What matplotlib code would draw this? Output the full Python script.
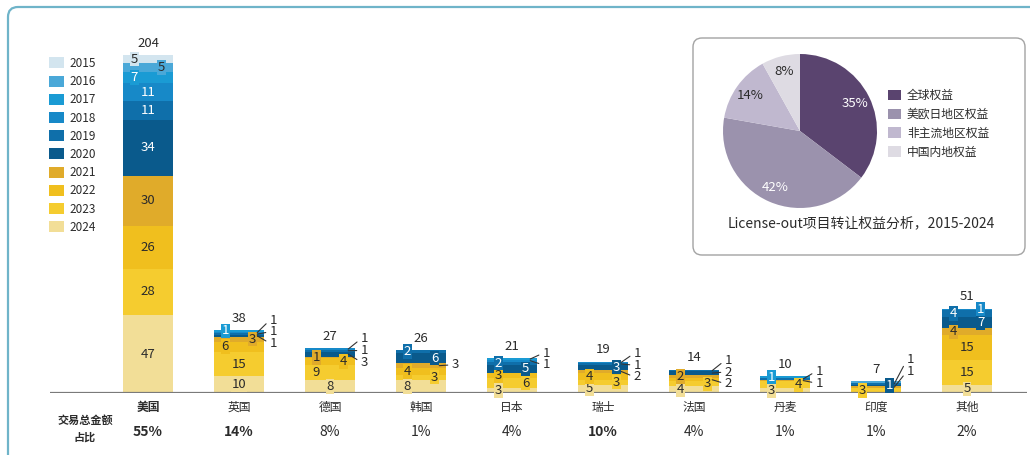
import matplotlib
matplotlib.use('Agg')
import matplotlib.pyplot as plt
from matplotlib.patches import FancyBboxPatch, Patch
from matplotlib.transforms import IdentityTransform
import numpy as np

plt.rcParams['font.family'] = ['Noto Sans CJK SC', 'DejaVu Sans']

# ---------------- data ----------------
years = [2015, 2016, 2017, 2018, 2019, 2020, 2021, 2022, 2023, 2024]
countries = ['美国', '英国', '德国', '韩国', '日本', '瑞士', '法国', '丹麦', '印度', '其他']
share_labels = ['55%', '14%', '8%', '1%', '4%', '10%', '4%', '1%', '1%', '2%']
share_bold = [True, True, False, False, False, True, False, False, False, False]

v2015 = [5, 0, 0, 0, 0, 0, 0, 0, 0, 0]
v2016 = [5, 0, 0, 0, 0, 0, 0, 0, 1, 0]
v2017 = [7, 1, 0, 0, 1, 0, 0, 1, 0, 0]
v2018 = [11, 1, 1, 0, 1, 1, 0, 0, 0, 1]
v2019 = [11, 1, 1, 2, 2, 1, 1, 1, 1, 4]
v2020 = [34, 1, 3, 6, 5, 3, 2, 0, 1, 7]
v2021 = [30, 3, 1, 3, 0, 2, 2, 1, 1, 4]
v2022 = [26, 6, 4, 4, 3, 4, 2, 0, 0, 15]
v2023 = [28, 15, 9, 3, 6, 3, 3, 4, 3, 15]
v2024 = [47, 10, 8, 8, 3, 5, 4, 3, 0, 5]
year_values = {2015: v2015, 2016: v2016, 2017: v2017, 2018: v2018, 2019: v2019,
               2020: v2020, 2021: v2021, 2022: v2022, 2023: v2023, 2024: v2024}

pie_labels = ['全球权益', '美欧日地区权益', '非主流地区权益', '中国内地权益']
pie_values = [35, 42, 14, 8]
pie_title = 'License-out项目转让权益分析，2015-2024'

# ---------------- style ----------------
year_colors = {2015: '#d3e5ef', 2016: '#4aa8d8', 2017: '#1a9bd4', 2018: '#1789c8',
               2019: '#0f6faa', 2020: '#0a5a8c', 2021: '#e0ab2a', 2022: '#f0bf1e',
               2023: '#f5cc2f', 2024: '#f2de97'}
white_text_years = {2017, 2018, 2019, 2020}
pie_colors = ['#5a446f', '#9b92ad', '#c0b8cf', '#dedbe3']

# label placement per bar: c=center, l=left, r=right, a=annotated outside, n=none
label_mode = [
    {2017: 'l', 2016: 'r', 2015: 'l'},
    {2022: 'l', 2021: 'r', 2020: 'a', 2019: 'a', 2018: 'a', 2017: 'l'},
    {2023: 'l', 2022: 'r', 2021: 'l', 2020: 'a', 2019: 'a', 2018: 'a'},
    {2024: 'l', 2023: 'r', 2022: 'l', 2021: 'a', 2020: 'r', 2019: 'l'},
    {2024: 'l', 2023: 'r', 2022: 'l', 2020: 'r', 2019: 'l', 2018: 'a', 2017: 'a'},
    {2024: 'l', 2023: 'r', 2022: 'l', 2021: 'a', 2020: 'r', 2019: 'a', 2018: 'a'},
    {2024: 'l', 2023: 'r', 2022: 'a', 2021: 'l', 2020: 'a', 2019: 'a'},
    {2024: 'l', 2023: 'r', 2021: 'a', 2019: 'a', 2017: 'l'},
    {2023: 'l', 2021: 'a', 2020: 'r', 2019: 'a', 2016: 'n'},
    {2021: 'l', 2020: 'r', 2019: 'l', 2018: 'r'},
]
annot_shift = [0.5, 1.5, 0.5, 0.5, 0.5, 0.5, 1.5, 1.5, 12.0, 0.5]

W, H = 1030, 455
fig = plt.figure(figsize=(W / 100, H / 100), dpi=100)
fig.patch.set_facecolor('white')


def px_rect(x0, y0, x1, y1):
    return [x0 / W, 1 - y1 / H, (x1 - x0) / W, (y1 - y0) / H]


# outer frame
frame = FancyBboxPatch((8, -30), 1100, (H - 7) + 30, boxstyle='round,pad=0,rounding_size=10',
                       transform=IdentityTransform(), fc='none', ec='#6fb4c9', lw=1.6, zorder=-2)
fig.add_artist(frame)
# inset frame
inset = FancyBboxPatch((693, H - 255), 332, 217, boxstyle='round,pad=0,rounding_size=9',
                       transform=IdentityTransform(), fc='white', ec='#a3a3a3', lw=1.0, zorder=-1)
fig.add_artist(inset)

# ---------------- main bar chart ----------------
ax = fig.add_axes(px_rect(50, 30, 1027, 393))
ax.axis('off')
x0c, step = 148, 91.0
ax.set_xlim((50 - x0c) / step, (1027 - x0c) / step)
ax.set_ylim(0, (393 - 30) / (338 / 204))

x = np.arange(len(countries))
bw = 0.56
bottom = np.zeros(len(countries))
stack_order = years[::-1]  # 2024 at bottom
seg_info = [[] for _ in countries]
for yr in stack_order:
    vals = np.array(year_values[yr], dtype=float)
    ax.bar(x, vals, bw, bottom=bottom, color=year_colors[yr], edgecolor='none', zorder=2)
    for i, v in enumerate(vals):
        if v > 0:
            seg_info[i].append((yr, v, bottom[i] + v / 2))
    bottom += vals

totals = bottom
ax.axhline(0, color='#7a7a7a', lw=1.6, zorder=3)

FS = 9.5
for i in range(len(countries)):
    annots = []
    for yr, v, mid in seg_info[i]:
        mode = label_mode[i].get(yr, 'c')
        tcol = 'white' if yr in white_text_years else '#2b2b2b'
        if mode in ('c', 'l', 'r'):
            dx = {'c': 0, 'l': -0.15, 'r': 0.15}[mode]
            ax.text(i + dx, mid, f'{int(v)}', ha='center', va='center', fontsize=FS, color=tcol,
                    zorder=4, bbox=dict(boxstyle='square,pad=0.05', fc=year_colors[yr], ec='none'))
        elif mode == 'a':
            annots.append((v, mid))
    if annots:
        n = len(annots)
        center = np.mean([m for _, m in annots]) + annot_shift[i]
        sp = 7.0
        for k, (v, mid) in enumerate(annots):
            ly = center + (k - (n - 1) / 2) * sp
            ax.annotate(f'{int(v)}', xy=(i + 0.2, mid), xytext=(i + 0.38, ly),
                        ha='center', va='center', fontsize=FS, color='#2b2b2b', zorder=5,
                        arrowprops=dict(arrowstyle='-', color='#333333', lw=0.8,
                                        shrinkA=1, shrinkB=0, relpos=(0, 0.5)))
    ax.annotate(f'{int(totals[i])}', xy=(i, totals[i]), xytext=(0, 8.5), textcoords='offset points',
                ha='center', va='center', fontsize=FS, color='#2b2b2b')

ypx = 338 / 204
for i, c in enumerate(countries):
    ax.text(i, -(407 - 393) / ypx, c, ha='center', va='center', fontsize=8.5,
            fontweight='bold' if i == 0 else 'normal', color='#2b2b2b', clip_on=False)
    ax.text(i, -(432 - 393) / ypx, share_labels[i], ha='center', va='center', fontsize=10,
            fontweight='bold' if share_bold[i] else 'normal', color='#2b2b2b', clip_on=False)
ax.text((85 - x0c) / step, -(420 - 393) / ypx, '交易总金额', ha='center', va='center', fontsize=8,
        fontweight='bold', color='#2b2b2b', clip_on=False)
ax.text((85 - x0c) / step, -(437 - 393) / ypx, '占比', ha='center', va='center', fontsize=8,
        fontweight='bold', color='#2b2b2b', clip_on=False)

# year legend
handles = [Patch(facecolor=year_colors[y], edgecolor='none', label=str(y)) for y in years]
fig.legend(handles=handles, loc='upper left', bbox_to_anchor=(49 / W, 1 - 57 / H),
           frameon=False, fontsize=8.5, handlelength=1.3, handleheight=1.05,
           handletextpad=0.4, labelspacing=0.44, borderpad=0, borderaxespad=0,
           labelcolor='#2b2b2b')

# ---------------- pie ----------------
r = 77
ext = 1.05
pax = fig.add_axes(px_rect(800 - r * ext, 131 - r * ext, 800 + r * ext, 131 + r * ext))
wedges, texts, autotexts = pax.pie(pie_values, colors=pie_colors, startangle=90, counterclock=False,
                                   autopct='%.0f%%', pctdistance=0.8,
                                   textprops=dict(fontsize=9.5, color='#2b2b2b'))
for k, t in enumerate(autotexts):
    t.set_color('white' if k < 2 else '#2b2b2b')
pax.set_xlim(-ext, ext)
pax.set_ylim(-ext, ext)
pax.set_aspect('equal')

pax.legend(wedges, pie_labels, loc='upper left', bbox_to_anchor=(888 / W, 1 - 89 / H),
           bbox_transform=fig.transFigure, frameon=False, fontsize=8.5, handlelength=1.1,
           handleheight=1.0, handletextpad=0.5, labelspacing=0.5, borderpad=0,
           borderaxespad=0, labelcolor='#2b2b2b')

fig.text(861 / W, 1 - 223 / H, pie_title, ha='center', va='center', fontsize=10, color='#2b2b2b')

fig.savefig('out.png', dpi=100)
